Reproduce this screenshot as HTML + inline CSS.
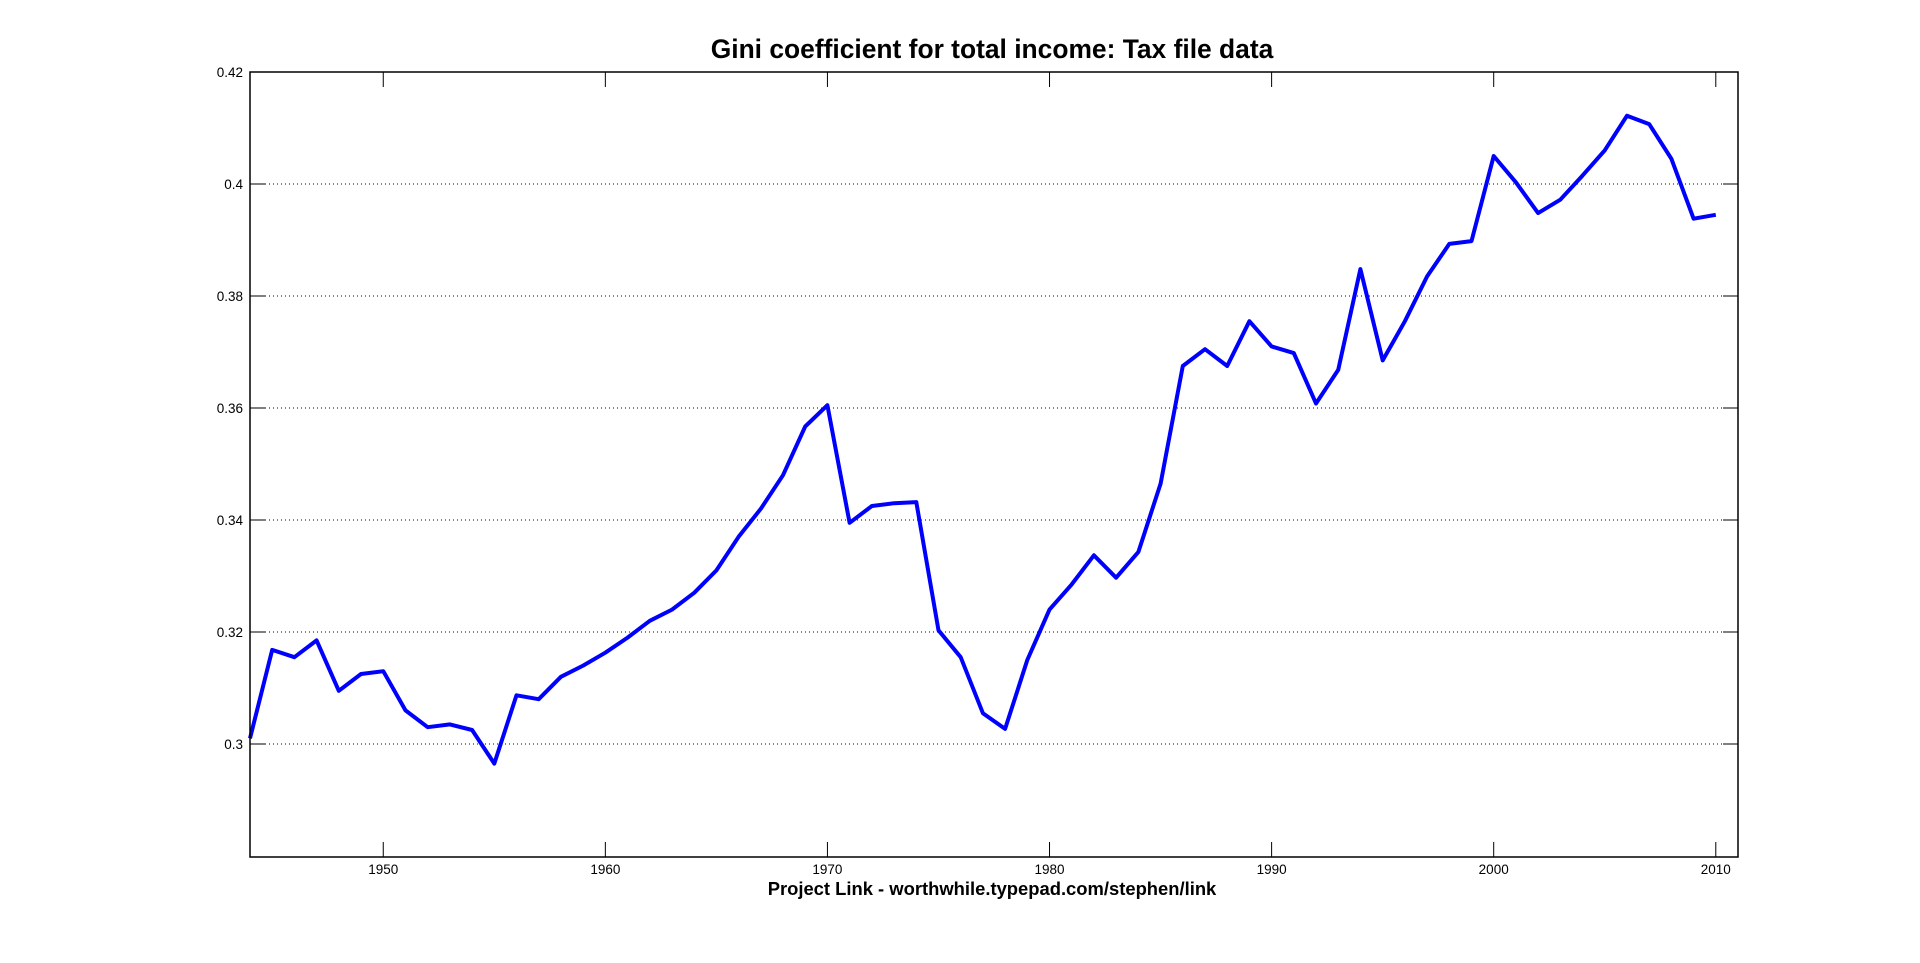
<!DOCTYPE html>
<html><head><meta charset="utf-8"><style>
html,body{margin:0;padding:0;background:#fff;width:1920px;height:963px;overflow:hidden}
svg{display:block}
text{font-family:"Liberation Sans",Arial,sans-serif;fill:#000}
</style></head><body>
<svg id="s" width="1920" height="963" viewBox="0 0 1920 963" xmlns="http://www.w3.org/2000/svg">
<rect width="1920" height="963" fill="#fff"/>
<text x="992" y="58" font-size="26.4" font-weight="bold" text-anchor="middle">Gini coefficient for total income: Tax file data</text>
<g id="grid" stroke="#000" stroke-width="1" stroke-dasharray="1,3"></g>
<g id="ticks" stroke="#000" stroke-width="1"></g>
<g id="labels" font-size="13.5"></g>
<polyline id="line" fill="none" stroke="#0000ff" stroke-width="4" stroke-linejoin="round"/>
<rect x="250" y="72" width="1488" height="785" fill="none" stroke="#000" stroke-width="1.5"/>
<text x="992" y="895" font-size="18.4" font-weight="bold" text-anchor="middle">Project Link - worthwhile.typepad.com/stephen/link</text>
</svg>
<script>
var L=250,R=1738,T=72,B=857;
function X(y){return L+(y-1944)*(R-L)/67;}
function Y(v){return T+(0.42-v)/0.02*112;}
var ns="http://www.w3.org/2000/svg";
function el(p,n,a,t){var e=document.createElementNS(ns,n);for(var k in a)e.setAttribute(k,a[k]);if(t)e.textContent=t;document.getElementById(p).appendChild(e);}
var yt=[0.3,0.32,0.34,0.36,0.38,0.4,0.42],yl=["0.3","0.32","0.34","0.36","0.38","0.4","0.42"];
yt.forEach(function(v,i){var y=Y(v);
 if(v<0.419){el("grid","line",{x1:L+15,x2:R-15,y1:y,y2:y});}
 el("ticks","line",{x1:L,x2:L+15,y1:y,y2:y});el("ticks","line",{x1:R-15,x2:R,y1:y,y2:y});
 el("labels","text",{x:L-7,y:y+5,"text-anchor":"end"},yl[i]);});
[1950,1960,1970,1980,1990,2000,2010].forEach(function(yr){var x=X(yr);
 el("ticks","line",{x1:x,x2:x,y1:B,y2:B-15});el("ticks","line",{x1:x,x2:x,y1:T,y2:T+15});
 el("labels","text",{x:x,y:B+17,"text-anchor":"middle"},String(yr));});
var d=[0.301,0.3168,0.3155,0.3185,0.3095,0.3125,0.313,0.306,0.303,0.3035,0.3025,0.2965,0.3087,0.308,0.312,0.314,0.3163,0.319,0.322,0.324,0.327,0.331,0.337,0.342,0.348,0.3567,0.3605,0.3395,0.3425,0.343,0.3432,0.3203,0.3155,0.3055,0.3027,0.315,0.324,0.3285,0.3337,0.3297,0.3343,0.3465,0.3675,0.3705,0.3675,0.3755,0.371,0.3698,0.3608,0.3668,0.3848,0.3685,0.3755,0.3835,0.3893,0.3898,0.405,0.4003,0.3948,0.3972,0.4015,0.406,0.4122,0.4107,0.4045,0.3938,0.3945];
var pts=d.map(function(v,i){return X(1944+i).toFixed(1)+","+Y(v).toFixed(1);});
document.getElementById("line").setAttribute("points",pts.join(" "));
</script>
</body></html>
